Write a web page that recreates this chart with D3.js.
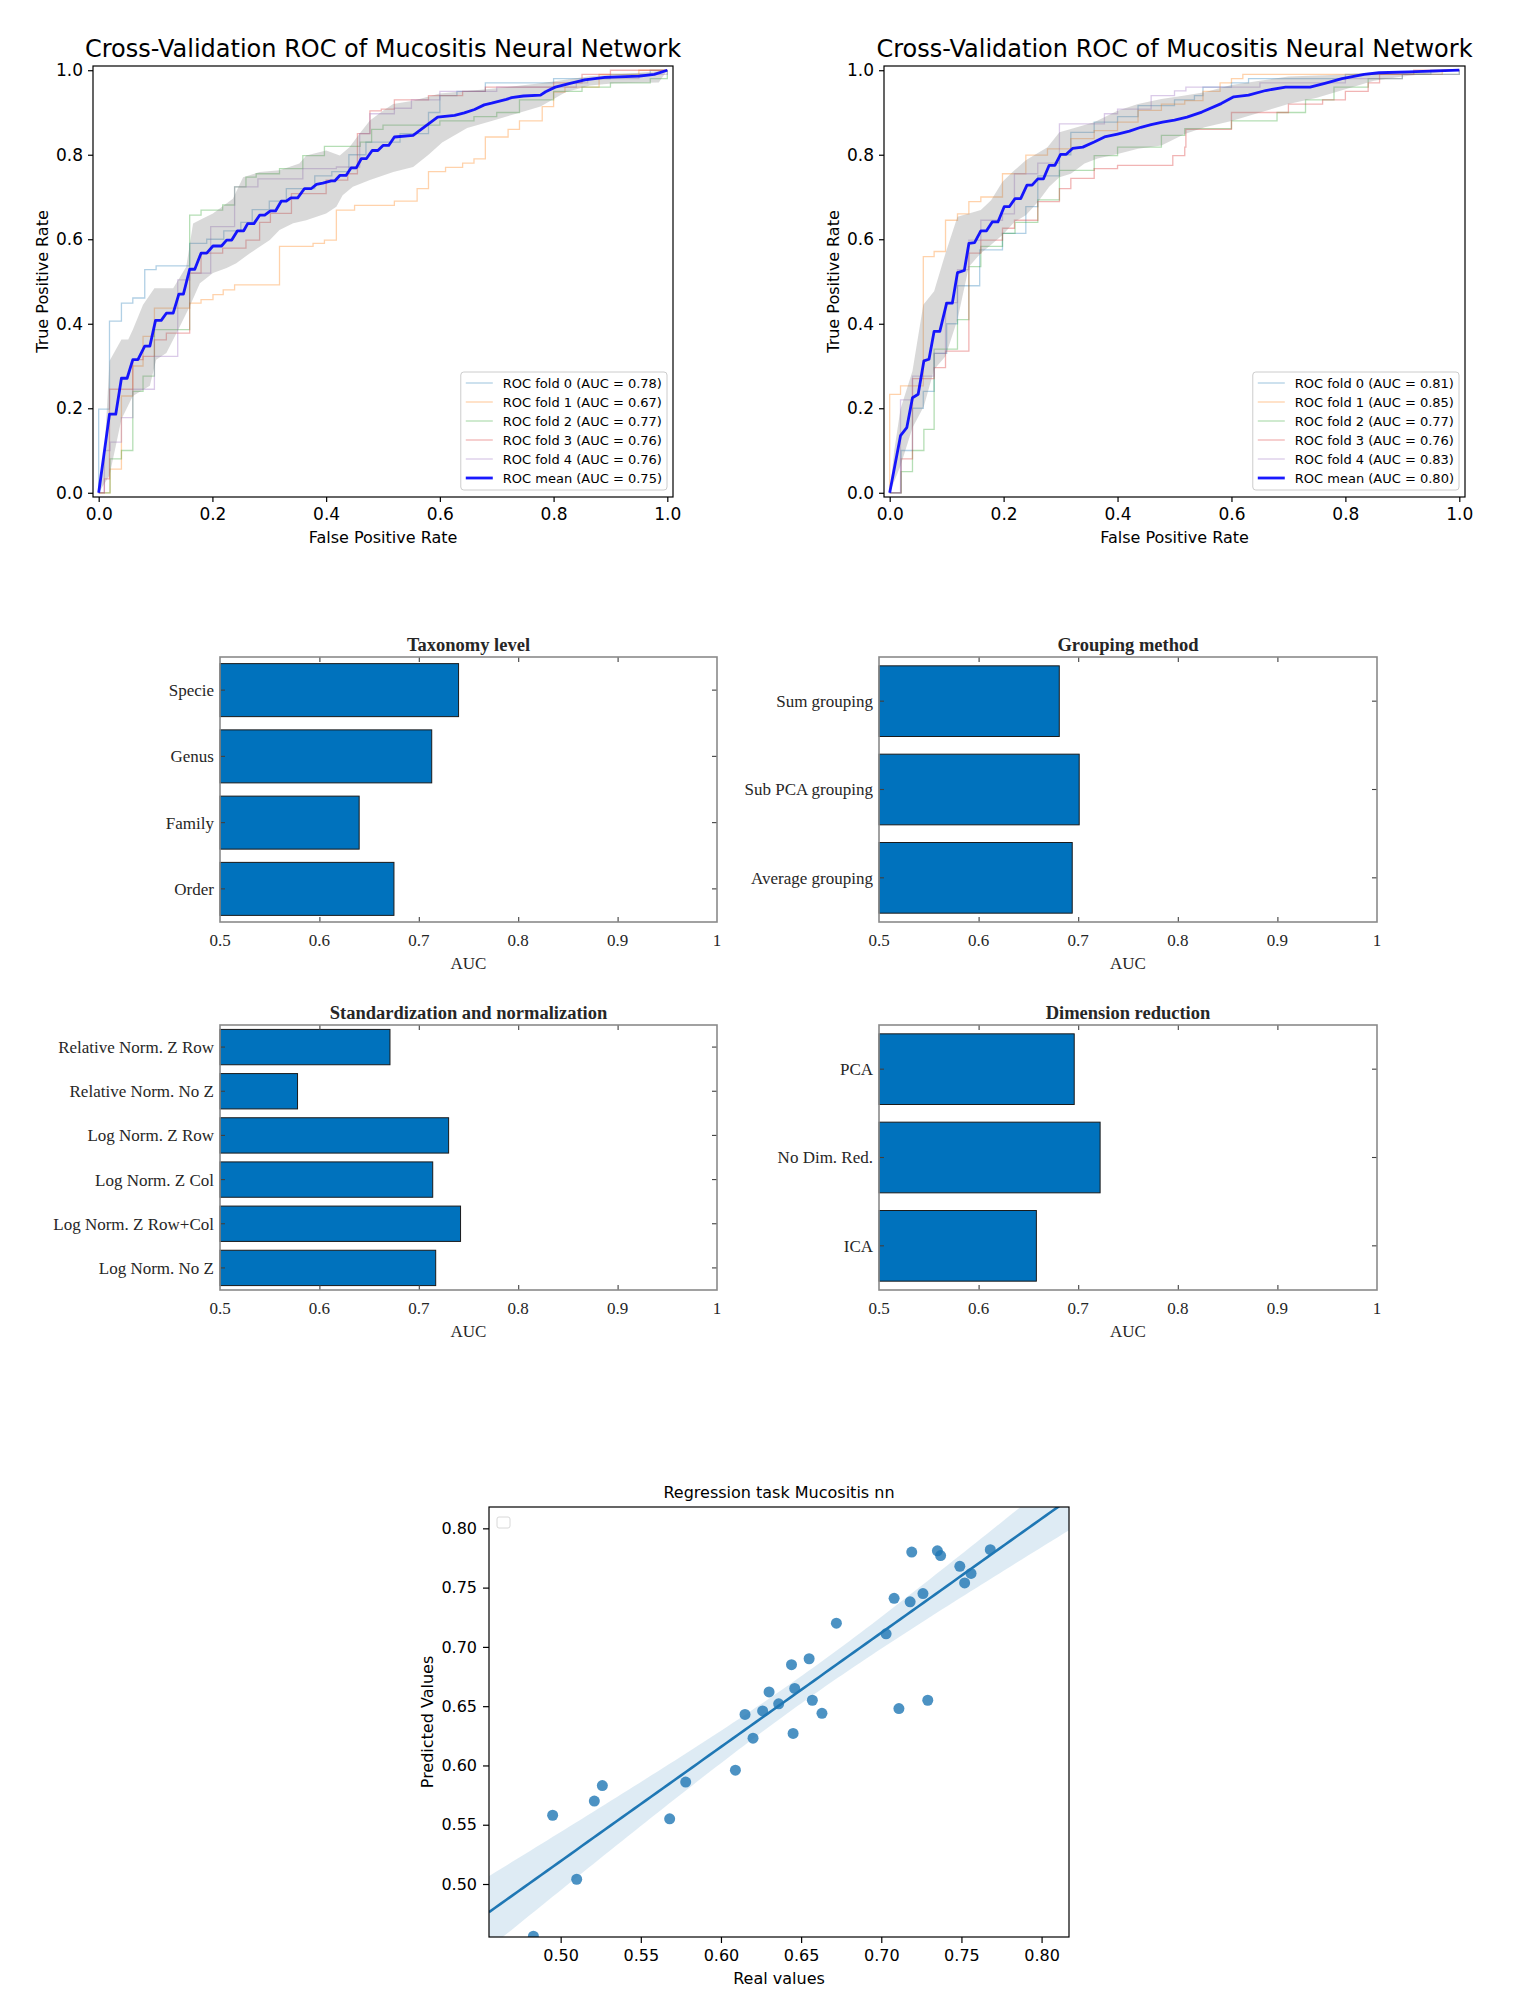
<!DOCTYPE html>
<html lang="en">
<head>
<meta charset="utf-8">
<title>Mucositis neural network results</title>
<script src="https://cdn.jsdelivr.net/npm/d3@7"></script>
<style>
  body { margin: 0; background: #fff; }
  .mpl text { font-family: "DejaVu Sans", sans-serif; fill: #000; }
  .mat text { font-family: "Liberation Serif", "Times New Roman", serif; fill: #262626; }
</style>
</head>
<body>
<script>

// ---------- ROC, left panel: fold curves as [fpr, tpr] jump points ----------
var leftFold0 = [[0,0],[0,0.198],[0.019,0.406],[0.040,0.449],[0.060,0.461],[0.081,0.528],[0.101,0.537],[0.160,0.59],[0.19,0.60],[0.22,0.62],[0.25,0.64],[0.27,0.67],[0.30,0.69],[0.33,0.72],[0.38,0.75],[0.41,0.76],[0.44,0.80],[0.47,0.83],[0.53,0.85],[0.58,0.90],[0.60,0.94],[0.63,0.95],[0.68,0.97],[0.80,0.98],[0.90,0.99],[0.97,1],[1,1]];
var leftFold1 = [[0,0],[0.02,0.056],[0.04,0.229],[0.06,0.30],[0.078,0.370],[0.098,0.437],[0.16,0.449],[0.18,0.457],[0.201,0.469],[0.219,0.480],[0.239,0.492],[0.318,0.583],[0.377,0.590],[0.397,0.598],[0.418,0.669],[0.45,0.68],[0.52,0.69],[0.56,0.72],[0.58,0.76],[0.61,0.77],[0.64,0.78],[0.66,0.79],[0.68,0.842],[0.72,0.86],[0.74,0.88],[0.78,0.914],[0.80,0.948],[0.82,0.96],[0.88,0.99],[0.95,1],[1,1]];
var leftFold2 = [[0,0],[0.02,0.08],[0.04,0.10],[0.06,0.24],[0.078,0.276],[0.098,0.386],[0.16,0.657],[0.18,0.669],[0.218,0.681],[0.239,0.724],[0.259,0.747],[0.277,0.755],[0.318,0.767],[0.359,0.798],[0.397,0.820],[0.46,0.83],[0.48,0.86],[0.50,0.87],[0.60,0.88],[0.66,0.89],[0.70,0.90],[0.74,0.93],[0.80,0.95],[0.85,0.96],[0.90,0.97],[0.97,0.98],[1,1]];
var leftFold3 = [[0,0],[0.01,0.033],[0.019,0.245],[0.06,0.315],[0.078,0.323],[0.098,0.362],[0.119,0.378],[0.16,0.52],[0.18,0.567],[0.218,0.579],[0.259,0.598],[0.283,0.64],[0.302,0.661],[0.339,0.708],[0.40,0.74],[0.438,0.755],[0.455,0.85],[0.477,0.904],[0.497,0.908],[0.52,0.93],[0.58,0.94],[0.64,0.95],[0.68,0.96],[0.80,0.97],[0.85,0.99],[0.9,1],[1,1]];
var leftFold4 = [[0,0],[0.01,0.1],[0.02,0.12],[0.04,0.178],[0.06,0.245],[0.098,0.323],[0.139,0.504],[0.16,0.52],[0.197,0.630],[0.239,0.724],[0.28,0.743],[0.359,0.767],[0.418,0.771],[0.459,0.850],[0.477,0.897],[0.52,0.91],[0.55,0.93],[0.60,0.95],[0.70,0.96],[0.84,0.97],[0.86,0.98],[0.95,0.99],[1,1]];
var leftAUC = [0.78, 0.67, 0.77, 0.76, 0.76];
var leftMeanAUC = 0.75;
var leftMean = [[0,0],[0.019,0.186],[0.030,0.186],[0.040,0.271],[0.050,0.271],[0.060,0.315],[0.069,0.315],[0.081,0.347],[0.090,0.347],[0.100,0.408],[0.110,0.408],[0.119,0.425],[0.131,0.425],[0.141,0.470],[0.149,0.470],[0.160,0.529],[0.169,0.529],[0.180,0.567],[0.190,0.567],[0.201,0.584],[0.216,0.584],[0.225,0.598],[0.234,0.598],[0.244,0.620],[0.255,0.620],[0.262,0.637],[0.273,0.637],[0.283,0.657],[0.292,0.657],[0.302,0.667],[0.311,0.667],[0.321,0.690],[0.330,0.690],[0.338,0.698],[0.350,0.698],[0.362,0.720],[0.374,0.720],[0.383,0.730],[0.394,0.733],[0.409,0.738],[0.415,0.738],[0.424,0.751],[0.435,0.751],[0.444,0.769],[0.453,0.769],[0.462,0.791],[0.471,0.791],[0.481,0.810],[0.491,0.810],[0.500,0.822],[0.510,0.822],[0.520,0.842],[0.553,0.846],[0.583,0.876],[0.596,0.889],[0.626,0.893],[0.643,0.899],[0.661,0.907],[0.678,0.918],[0.691,0.922],[0.717,0.931],[0.726,0.935],[0.747,0.939],[0.777,0.941],[0.786,0.949],[0.803,0.960],[0.829,0.969],[0.855,0.977],[0.890,0.983],[0.951,0.986],[0.977,0.990],[1,1]];
var leftUpper = [[0,0],[0.0105,0.104],[0.019,0.312],[0.040,0.363],[0.052,0.363],[0.060,0.386],[0.078,0.445],[0.098,0.484],[0.131,0.484],[0.154,0.535],[0.166,0.637],[0.183,0.649],[0.201,0.661],[0.236,0.696],[0.254,0.747],[0.283,0.759],[0.318,0.763],[0.353,0.779],[0.365,0.798],[0.400,0.810],[0.424,0.798],[0.441,0.818],[0.459,0.850],[0.477,0.881],[0.500,0.904],[0.518,0.920],[0.553,0.928],[0.60,0.945],[0.691,0.956],[0.777,0.969],[0.864,0.986],[0.951,0.994],[1,1]];
var leftLower = [[0,0],[0.019,0.041],[0.040,0.174],[0.060,0.229],[0.090,0.253],[0.101,0.315],[0.119,0.331],[0.137,0.378],[0.160,0.441],[0.178,0.496],[0.201,0.520],[0.225,0.532],[0.242,0.543],[0.266,0.567],[0.301,0.598],[0.318,0.622],[0.342,0.638],[0.365,0.645],[0.400,0.661],[0.418,0.677],[0.429,0.704],[0.447,0.724],[0.477,0.740],[0.518,0.759],[0.553,0.771],[0.58,0.80],[0.604,0.829],[0.648,0.863],[0.691,0.880],[0.734,0.897],[0.777,0.914],[0.821,0.948],[0.864,0.964],[0.907,0.969],[0.985,0.971],[1,1]];

// ---------- ROC, right panel ----------
var rightFold0 = [[0,0],[0.02,0.10],[0.04,0.20],[0.059,0.24],[0.078,0.33],[0.10,0.40],[0.119,0.49],[0.158,0.575],[0.198,0.614],[0.239,0.677],[0.26,0.75],[0.298,0.80],[0.318,0.853],[0.359,0.877],[0.40,0.89],[0.436,0.916],[0.50,0.93],[0.535,0.94],[0.55,0.96],[0.60,0.97],[0.63,0.98],[0.80,0.99],[0.95,1],[1,1]];
var rightFold1 = [[0,0],[0,0.233],[0.019,0.253],[0.059,0.559],[0.078,0.571],[0.098,0.645],[0.119,0.66],[0.139,0.689],[0.16,0.70],[0.198,0.755],[0.239,0.799],[0.277,0.814],[0.318,0.838],[0.359,0.857],[0.40,0.877],[0.436,0.905],[0.477,0.920],[0.518,0.928],[0.55,0.95],[0.58,0.97],[0.60,0.98],[0.62,0.99],[0.90,0.99],[0.97,1],[1,1]];
var rightFold2 = [[0,0],[0.02,0.05],[0.04,0.10],[0.06,0.15],[0.078,0.198],[0.078,0.34],[0.119,0.41],[0.139,0.535],[0.16,0.583],[0.198,0.614],[0.22,0.64],[0.26,0.693],[0.298,0.763],[0.359,0.798],[0.40,0.818],[0.477,0.846],[0.518,0.862],[0.60,0.88],[0.68,0.90],[0.73,0.93],[0.78,0.96],[0.84,0.98],[0.90,0.99],[1,1]];
var rightFold3 = [[0,0],[0.02,0.08],[0.04,0.27],[0.078,0.296],[0.098,0.335],[0.139,0.567],[0.16,0.598],[0.198,0.626],[0.219,0.645],[0.26,0.689],[0.298,0.72],[0.318,0.744],[0.359,0.767],[0.40,0.775],[0.497,0.798],[0.518,0.818],[0.52,0.86],[0.60,0.90],[0.70,0.92],[0.76,0.93],[0.80,0.95],[0.84,0.97],[0.86,0.99],[0.92,1],[1,1]];
var rightFold4 = [[0,0],[0.019,0.22],[0.04,0.276],[0.078,0.33],[0.098,0.45],[0.119,0.528],[0.139,0.598],[0.16,0.645],[0.198,0.66],[0.219,0.755],[0.26,0.78],[0.298,0.873],[0.377,0.897],[0.40,0.908],[0.459,0.94],[0.50,0.951],[0.52,0.96],[0.65,0.97],[0.80,0.98],[0.90,0.99],[1,1]];
var rightAUC = [0.81, 0.85, 0.77, 0.76, 0.83];
var rightMeanAUC = 0.80;
var rightMean = [[0,0],[0.019,0.135],[0.030,0.154],[0.040,0.225],[0.050,0.233],[0.060,0.312],[0.069,0.316],[0.078,0.382],[0.088,0.382],[0.100,0.449],[0.110,0.449],[0.119,0.521],[0.131,0.526],[0.139,0.590],[0.149,0.592],[0.160,0.620],[0.170,0.620],[0.180,0.641],[0.190,0.641],[0.201,0.677],[0.210,0.677],[0.220,0.696],[0.230,0.696],[0.241,0.728],[0.250,0.728],[0.260,0.743],[0.270,0.743],[0.280,0.775],[0.290,0.775],[0.300,0.801],[0.310,0.801],[0.321,0.815],[0.339,0.818],[0.359,0.830],[0.377,0.842],[0.400,0.849],[0.421,0.856],[0.441,0.865],[0.459,0.871],[0.479,0.877],[0.500,0.882],[0.522,0.889],[0.548,0.901],[0.582,0.921],[0.604,0.937],[0.630,0.941],[0.660,0.952],[0.695,0.960],[0.738,0.960],[0.764,0.969],[0.794,0.980],[0.833,0.990],[0.859,0.994],[0.911,0.996],[1,1]];
var rightUpper = [[0,0],[0.008,0.10],[0.019,0.198],[0.040,0.288],[0.059,0.445],[0.078,0.477],[0.098,0.567],[0.119,0.653],[0.139,0.661],[0.160,0.669],[0.178,0.692],[0.198,0.736],[0.219,0.763],[0.239,0.787],[0.277,0.818],[0.298,0.853],[0.318,0.861],[0.359,0.877],[0.400,0.904],[0.436,0.920],[0.477,0.932],[0.518,0.940],[0.553,0.948],[0.60,0.965],[0.65,0.975],[0.70,0.985],[0.80,0.99],[0.85,0.995],[1,1]];
var rightLower = [[0,0],[0.019,0.064],[0.040,0.154],[0.060,0.205],[0.078,0.292],[0.098,0.323],[0.119,0.410],[0.139,0.535],[0.160,0.567],[0.178,0.587],[0.198,0.610],[0.219,0.641],[0.239,0.657],[0.260,0.688],[0.280,0.724],[0.298,0.747],[0.318,0.755],[0.342,0.779],[0.365,0.791],[0.400,0.802],[0.436,0.814],[0.477,0.822],[0.518,0.849],[0.553,0.865],[0.60,0.88],[0.65,0.90],[0.70,0.92],[0.75,0.935],[0.80,0.955],[0.85,0.975],[0.90,0.985],[1,1]];

var rocTicks = [0, 0.2, 0.4, 0.6, 0.8, 1.0];
var foldColors = ["#1f77b4", "#ff7f0e", "#2ca02c", "#d62728", "#9467bd"];

// ---------- bar charts ----------
var taxonomyLabels = ["Specie", "Genus", "Family", "Order"];
var taxonomyAUC = [0.740, 0.713, 0.640, 0.675];
var groupingLabels = ["Sum grouping", "Sub PCA grouping", "Average grouping"];
var groupingAUC = [0.681, 0.701, 0.694];
var normLabels = ["Relative Norm. Z Row", "Relative Norm. No Z", "Log Norm. Z Row", "Log Norm. Z Col", "Log Norm. Z Row+Col", "Log Norm. No Z"];
var normAUC = [0.671, 0.578, 0.730, 0.714, 0.742, 0.717];
var dimLabels = ["PCA", "No Dim. Red.", "ICA"];
var dimAUC = [0.696, 0.722, 0.658];
var aucTicks = [0.5, 0.6, 0.7, 0.8, 0.9, 1];

// ---------- regression scatter ----------
var realValues = [0.495, 0.510, 0.483, 0.521, 0.526, 0.568, 0.578, 0.609, 0.615, 0.620, 0.626, 0.630, 0.636, 0.644, 0.645, 0.646, 0.655, 0.657, 0.663, 0.672, 0.703, 0.708, 0.711, 0.718, 0.719, 0.726, 0.729, 0.735, 0.737, 0.749, 0.752, 0.756, 0.768];
var predictedValues = [0.558, 0.504, 0.456, 0.570, 0.583, 0.555, 0.586, 0.596, 0.643, 0.623, 0.646, 0.662, 0.652, 0.685, 0.627, 0.665, 0.690, 0.655, 0.644, 0.720, 0.711, 0.741, 0.648, 0.738, 0.780, 0.745, 0.655, 0.781, 0.777, 0.768, 0.754, 0.762, 0.782];
var regTicks = [0.50, 0.55, 0.60, 0.65, 0.70, 0.75, 0.80];

var svg = d3.select("body").append("svg")
    .attr("width", 1536)
    .attr("height", 2000);

//ROC panel drawer
function rocPanel(frame, folds, aucs, meanPts, meanAuc, upper, lower) {
  var g = svg.append("g").attr("class", "mpl");
  var x = d3.scaleLinear().domain([-0.01, 1.01]).range([frame.x0, frame.x1]);
  var y = d3.scaleLinear().domain([-0.01, 1.01]).range([frame.y1, frame.y0]);
  var line = d3.line().x(function(d) { return x(d[0]); }).y(function(d) { return y(d[1]); });
  var step = d3.line().x(function(d) { return x(d[0]); }).y(function(d) { return y(d[1]); }).curve(d3.curveStepAfter);

  folds.forEach(function(f, i) {
    g.append("path").attr("d", step(f))
      .attr("fill", "none").attr("stroke", foldColors[i])
      .attr("stroke-opacity", 0.35).attr("stroke-width", 1.3);
  });

  g.append("path").attr("d", line(upper.concat(lower.slice().reverse())) + "Z")
    .attr("fill", "#808080").attr("fill-opacity", 0.3);

  g.append("path").attr("d", line(meanPts))
    .attr("fill", "none").attr("stroke", "#0000ff")
    .attr("stroke-opacity", 0.9).attr("stroke-width", 2.8)
    .attr("stroke-linejoin", "round");

  //frame
  g.append("rect").attr("x", frame.x0).attr("y", frame.y0)
    .attr("width", frame.x1 - frame.x0).attr("height", frame.y1 - frame.y0)
    .attr("fill", "none").attr("stroke", "#000").attr("stroke-width", 1.2);

  var xAxis = d3.axisBottom(x).tickValues(rocTicks).tickFormat(d3.format(".1f")).tickSize(5).tickPadding(6);
  var yAxis = d3.axisLeft(y).tickValues(rocTicks).tickFormat(d3.format(".1f")).tickSize(5).tickPadding(5);
  var gx = g.append("g").attr("transform", "translate(0," + frame.y1 + ")").call(xAxis);
  var gy = g.append("g").attr("transform", "translate(" + frame.x0 + ",0)").call(yAxis);
  [gx, gy].forEach(function(a) {
    a.select(".domain").remove();
    a.selectAll("line").attr("stroke", "#000").attr("stroke-width", 1.2);
    a.selectAll("text").style("font-size", "17px").attr("fill", "#000");
  });

  var cx = (frame.x0 + frame.x1) / 2;
  g.append("text").attr("x", cx).attr("y", frame.y0 - 9)
    .attr("text-anchor", "middle").style("font-size", "24px")
    .text("Cross-Validation ROC of Mucositis Neural Network");
  g.append("text").attr("x", cx).attr("y", frame.y1 + 46)
    .attr("text-anchor", "middle").style("font-size", "16px")
    .text("False Positive Rate");
  g.append("text")
    .attr("transform", "translate(" + (frame.x0 - 45) + "," + ((frame.y0 + frame.y1) / 2) + ") rotate(-90)")
    .attr("text-anchor", "middle").style("font-size", "16px")
    .text("True Positive Rate");

  //legend
  var labels = aucs.map(function(a, i) { return "ROC fold " + i + " (AUC = " + a.toFixed(2) + ")"; });
  labels.push("ROC mean (AUC = " + meanAuc.toFixed(2) + ")");
  var rowH = 19;
  var lastY = frame.y1 - 19;
  var firstY = lastY - rowH * (labels.length - 1);
  var lg = g.append("g");
  var box = lg.append("rect");
  var texts = lg.selectAll("text.lab").data(labels).enter().append("text")
    .attr("class", "lab")
    .attr("y", function(d, i) { return firstY + i * rowH; })
    .attr("dy", "0.35em").style("font-size", "13px")
    .text(function(d) { return d; });
  var maxW = 0;
  texts.each(function() { maxW = Math.max(maxW, this.getComputedTextLength()); });
  var bx1 = frame.x1 - 6;
  var bx0 = bx1 - (5 + 27 + 10 + maxW + 5);
  texts.attr("x", bx0 + 42);
  box.attr("x", bx0).attr("y", firstY - 11).attr("width", bx1 - bx0).attr("height", lastY - firstY + 23)
    .attr("rx", 3).attr("fill", "#fff").attr("fill-opacity", 0.8)
    .attr("stroke", "#cccccc").attr("stroke-width", 1);
  labels.forEach(function(d, i) {
    var isMean = i === labels.length - 1;
    lg.append("line").attr("x1", bx0 + 5).attr("x2", bx0 + 32)
      .attr("y1", firstY + i * rowH).attr("y2", firstY + i * rowH)
      .attr("stroke", isMean ? "#0000ff" : foldColors[i])
      .attr("stroke-opacity", isMean ? 0.9 : 0.35)
      .attr("stroke-width", isMean ? 2.8 : 1.3);
  });
}

rocPanel({x0: 93, x1: 673, y0: 66, y1: 497},
  [leftFold0, leftFold1, leftFold2, leftFold3, leftFold4], leftAUC, leftMean, leftMeanAUC, leftUpper, leftLower);
rocPanel({x0: 884, x1: 1465, y0: 66, y1: 497},
  [rightFold0, rightFold1, rightFold2, rightFold3, rightFold4], rightAUC, rightMean, rightMeanAUC, rightUpper, rightLower);

//horizontal bar chart drawer (MATLAB look)
function barPanel(frame, labels, values, title) {
  var g = svg.append("g").attr("class", "mat");
  var x = d3.scaleLinear().domain([0.5, 1]).range([frame.x0, frame.x1]);
  var y = d3.scaleBand().domain(labels).range([frame.y0, frame.y1]).paddingInner(0.2).paddingOuter(0.1);

  g.selectAll("rect.bar").data(values).enter().append("rect")
    .attr("class", "bar")
    .attr("x", x(0.5))
    .attr("y", function(d, i) { return y(labels[i]); })
    .attr("width", function(d) { return x(d) - x(0.5); })
    .attr("height", y.bandwidth())
    .attr("fill", "#0072bd").attr("stroke", "#1a1a1a").attr("stroke-width", 1);

  var inner = [0.6, 0.7, 0.8, 0.9];
  var gb = g.append("g").attr("transform", "translate(0," + frame.y1 + ")")
    .call(d3.axisBottom(x).tickValues(inner).tickSize(-5).tickFormat(""));
  var gt = g.append("g").attr("transform", "translate(0," + frame.y0 + ")")
    .call(d3.axisTop(x).tickValues(inner).tickSize(-5).tickFormat(""));
  var gl = g.append("g").attr("transform", "translate(" + frame.x0 + ",0)")
    .call(d3.axisLeft(y).tickSize(-5).tickFormat(""));
  var gr = g.append("g").attr("transform", "translate(" + frame.x1 + ",0)")
    .call(d3.axisRight(y).tickSize(-5).tickFormat(""));
  [gb, gt, gl, gr].forEach(function(a) {
    a.select(".domain").remove();
    a.selectAll("line").attr("stroke", "#404040").attr("stroke-width", 1.1);
  });

  g.append("rect").attr("x", frame.x0).attr("y", frame.y0)
    .attr("width", frame.x1 - frame.x0).attr("height", frame.y1 - frame.y0)
    .attr("fill", "none").attr("stroke", "#8a8a8a").attr("stroke-width", 1.6);

  g.selectAll("text.tick").data(aucTicks).enter().append("text")
    .attr("class", "tick")
    .attr("x", function(d) { return x(d); })
    .attr("y", frame.y1 + 24)
    .attr("text-anchor", "middle").style("font-size", "17px")
    .text(function(d) { return d; });

  g.selectAll("text.cat").data(labels).enter().append("text")
    .attr("class", "cat")
    .attr("x", frame.x0 - 6)
    .attr("y", function(d) { return y(d) + y.bandwidth() / 2; })
    .attr("dy", "0.35em")
    .attr("text-anchor", "end").style("font-size", "17px")
    .text(function(d) { return d; });

  var cx = (frame.x0 + frame.x1) / 2;
  g.append("text").attr("x", cx).attr("y", frame.y0 - 6)
    .attr("text-anchor", "middle").style("font-size", "18.5px").style("font-weight", "bold")
    .attr("fill", "#000")
    .text(title);
  g.append("text").attr("x", cx).attr("y", frame.y1 + 47)
    .attr("text-anchor", "middle").style("font-size", "17px")
    .text("AUC");
}

barPanel({x0: 220, x1: 717, y0: 657, y1: 922}, taxonomyLabels, taxonomyAUC, "Taxonomy level");
barPanel({x0: 879, x1: 1377, y0: 657, y1: 922}, groupingLabels, groupingAUC, "Grouping method");
barPanel({x0: 220, x1: 717, y0: 1025, y1: 1290}, normLabels, normAUC, "Standardization and normalization");
barPanel({x0: 879, x1: 1377, y0: 1025, y1: 1290}, dimLabels, dimAUC, "Dimension reduction");

//regression panel
(function() {
  var frame = {x0: 489, x1: 1069, y0: 1507, y1: 1937};
  var g = svg.append("g").attr("class", "mpl");
  var x = d3.scaleLinear().domain([0.4553, 0.8171]).range([frame.x0, frame.x1]);
  var y = d3.scaleLinear().domain([0.4553, 0.818]).range([frame.y1, frame.y0]);

  g.append("clipPath").attr("id", "regclip").append("rect")
    .attr("x", frame.x0).attr("y", frame.y0)
    .attr("width", frame.x1 - frame.x0).attr("height", frame.y1 - frame.y0);
  var plot = g.append("g").attr("clip-path", "url(#regclip)");

  // ordinary least squares fit with 95% confidence band
  var n = realValues.length;
  var mx = d3.mean(realValues), my = d3.mean(predictedValues);
  var sxx = d3.sum(realValues, function(v) { return (v - mx) * (v - mx); });
  var sxy = d3.sum(realValues, function(v, i) { return (v - mx) * (predictedValues[i] - my); });
  var slope = sxy / sxx, icpt = my - slope * mx;
  var sse = d3.sum(realValues, function(v, i) { var r = predictedValues[i] - (icpt + slope * v); return r * r; });
  var s = Math.sqrt(sse / (n - 2));
  var tcrit = 2.04;
  var grid = d3.range(0, 101).map(function(k) { return x.domain()[0] + k / 100 * (x.domain()[1] - x.domain()[0]); });
  var band = grid.map(function(v) {
    var fit = icpt + slope * v;
    var half = tcrit * s * Math.sqrt(1 / n + (v - mx) * (v - mx) / sxx);
    return {x: v, fit: fit, lo: fit - half, hi: fit + half};
  });
  plot.append("path")
    .attr("d", d3.area().x(function(d) { return x(d.x); }).y0(function(d) { return y(d.lo); }).y1(function(d) { return y(d.hi); })(band))
    .attr("fill", "#1f77b4").attr("fill-opacity", 0.15);

  plot.selectAll("circle").data(realValues).enter().append("circle")
    .attr("cx", function(d) { return x(d); })
    .attr("cy", function(d, i) { return y(predictedValues[i]); })
    .attr("r", 5.5)
    .attr("fill", "#1f77b4").attr("fill-opacity", 0.8);

  plot.append("path")
    .attr("d", d3.line().x(function(d) { return x(d.x); }).y(function(d) { return y(d.fit); })(band))
    .attr("fill", "none").attr("stroke", "#1f77b4").attr("stroke-width", 2.6);

  g.append("rect").attr("x", frame.x0).attr("y", frame.y0)
    .attr("width", frame.x1 - frame.x0).attr("height", frame.y1 - frame.y0)
    .attr("fill", "none").attr("stroke", "#000").attr("stroke-width", 1.2);

  // empty legend box
  g.append("rect").attr("x", frame.x0 + 8).attr("y", frame.y0 + 10)
    .attr("width", 13).attr("height", 11).attr("rx", 2)
    .attr("fill", "#fff").attr("stroke", "#d8d8d8");

  var fmt = d3.format(".2f");
  var gx = g.append("g").attr("transform", "translate(0," + frame.y1 + ")")
    .call(d3.axisBottom(x).tickValues(regTicks).tickFormat(fmt).tickSize(6).tickPadding(7));
  var gy = g.append("g").attr("transform", "translate(" + frame.x0 + ",0)")
    .call(d3.axisLeft(y).tickValues(regTicks).tickFormat(fmt).tickSize(6).tickPadding(6));
  [gx, gy].forEach(function(a) {
    a.select(".domain").remove();
    a.selectAll("line").attr("stroke", "#000").attr("stroke-width", 1.2);
    a.selectAll("text").style("font-size", "16px").attr("fill", "#000");
  });

  var cx = (frame.x0 + frame.x1) / 2;
  g.append("text").attr("x", cx).attr("y", frame.y0 - 9)
    .attr("text-anchor", "middle").style("font-size", "16px")
    .text("Regression task Mucositis nn");
  g.append("text").attr("x", cx).attr("y", frame.y1 + 47)
    .attr("text-anchor", "middle").style("font-size", "16px")
    .text("Real values");
  g.append("text")
    .attr("transform", "translate(" + (frame.x0 - 56) + "," + ((frame.y0 + frame.y1) / 2) + ") rotate(-90)")
    .attr("text-anchor", "middle").style("font-size", "16px")
    .text("Predicted Values");
})();

</script>
</body>
</html>
